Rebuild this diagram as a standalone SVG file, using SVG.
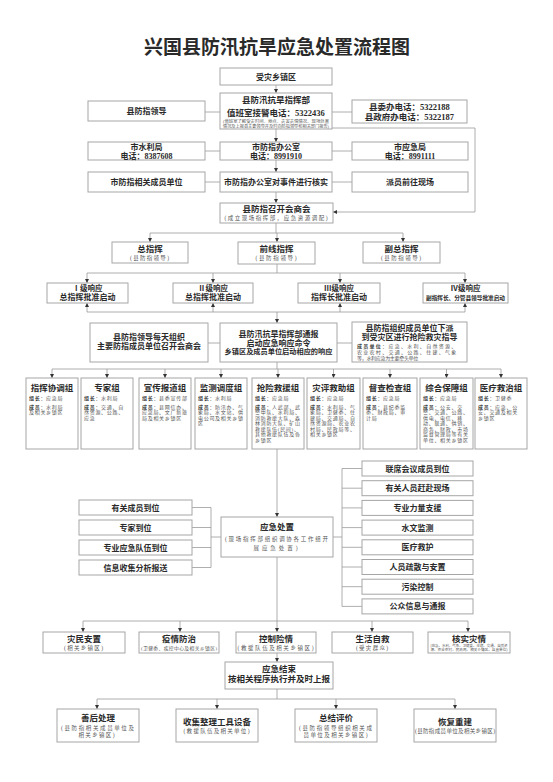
<svg xmlns="http://www.w3.org/2000/svg" width="553" height="782" viewBox="0 0 553 782">
<defs>
<marker id="ah" markerUnits="userSpaceOnUse" markerWidth="4" markerHeight="4" refX="4" refY="2" orient="auto"><path d="M0,0 L4,2 L0,4 z" fill="#333"/></marker>
<style>
.b{fill:#fff;stroke:#a6a6a6;stroke-width:1}
.l{fill:none;stroke:#9a9a9a;stroke-width:0.8}
.a{fill:none;stroke:#9a9a9a;stroke-width:0.8;marker-end:url(#ah)}
text{font-family:"Liberation Serif","Noto Sans CJK SC",serif;fill:#2a2a2a;text-anchor:middle}
.h{font-size:8.5px;font-weight:bold}
.m{font-size:8px;font-weight:bold}
.s{font-size:5.5px;fill:#555;letter-spacing:1px}
.x{font-size:4px;fill:#555}
.gt{font-size:8.5px;font-weight:bold}
.g{font-size:5px;fill:#555;text-anchor:start;letter-spacing:0.7px}
.g tspan.k{font-weight:bold;fill:#333}
</style>
</defs>
<rect width="553" height="782" fill="#fff"/>
<text x="277" y="54" style="font-size:19px;font-weight:bold">兴国县防汛抗旱应急处置流程图</text>

<g id="connectors">
<path class="a" d="M276,85V93"/>
<path class="l" d="M205,112H220M332,112H352"/>
<path class="a" d="M332,128H475V212H333"/>
<path class="a" d="M276,129V142"/>
<path class="l" d="M205,151H220M332,151H352"/>
<path class="a" d="M276,160V172"/>
<path class="l" d="M205,182H220M332,182H352"/>
<path class="a" d="M276,192V203"/>
<path class="l" d="M276,223V233M150,233H403"/>
<path class="a" d="M150,233V242"/><path class="a" d="M277,233V242"/><path class="a" d="M403,233V242"/>
<path class="l" d="M277,264V273M87,273H465"/>
<path class="a" d="M87,273V283"/><path class="a" d="M213,273V283"/><path class="a" d="M340,273V283"/><path class="a" d="M465,273V283"/>
<path class="l" d="M87,312H465"/>
<path class="a" d="M87,312V303"/><path class="a" d="M213,312V303"/><path class="a" d="M340,312V303"/><path class="a" d="M465,312V303"/>
<path class="a" d="M277,312V323"/>
<path class="l" d="M208,343H220M337,343H352"/>
<path class="l" d="M277,362V369M52,369H501"/>
<path class="a" d="M52,369V378"/><path class="a" d="M107,369V378"/><path class="a" d="M165,369V378"/><path class="a" d="M221,369V378"/><path class="a" d="M278,369V378"/><path class="a" d="M333.5,369V378"/><path class="a" d="M390,369V378"/><path class="a" d="M446.5,369V378"/><path class="a" d="M501,369V378"/>
<path class="a" d="M277,449V517"/>
<path class="l" d="M192,507.5H211M192,527.5H211M192,547.5H211M192,567.5H211M211,507.5V567.5M211,537H221"/>
<path class="l" d="M333,537H342M342,468.5V606.5M342,468.5H362M342,488.2H362M342,507.9H362M342,527.6H362M342,547.3H362M342,567H362M342,586.7H362M342,606.4H362"/>
<path class="l" d="M277,557V621M83,621H468"/>
<path class="a" d="M83,621V632"/><path class="a" d="M180,621V632"/><path class="a" d="M277,621V632"/><path class="a" d="M372,621V632"/><path class="a" d="M468,621V632"/>
<path class="a" d="M277,653V662"/>
<path class="l" d="M277,689V699M97,699H455"/>
<path class="a" d="M97,699V709"/><path class="a" d="M217,699V709"/><path class="a" d="M336,699V709"/><path class="a" d="M455,699V709"/>
</g>

<g id="n-shouzai"><rect class="b" x="220" y="68" width="112" height="17"/><text class="m" x="276" y="79.5">受灾乡镇区</text></g>
<g id="n-zhihuibu"><rect class="b" x="220" y="93" width="112" height="36"/>
<text class="h" x="276" y="103">县防汛抗旱指挥部</text>
<text class="h" x="276" y="115.5">值班室接警电话：5322436</text>
<text class="x" x="276" y="122.5" textLength="106" lengthAdjust="spacingAndGlyphs">(值班室了解受灾时间、地点、灾害灾情情况、现场处置</text>
<text class="x" x="276" y="127.5" textLength="106" lengthAdjust="spacingAndGlyphs">情况及上报县主要领导并及时向防指领导和相关部门报告)</text></g>
<g id="n-lingdao"><rect class="b" x="88" y="101" width="117" height="20"/><text class="m" x="146.5" y="114">县防指领导</text></g>
<g id="n-dianhua"><rect class="b" x="352" y="100" width="115" height="23"/><text class="h" x="409.5" y="110">县委办电话：5322188</text><text class="h" x="409.5" y="120">县政府办电话：5322187</text></g>

<g id="n-shuili"><rect class="b" x="88" y="142" width="117" height="18"/><text class="m" x="146.5" y="150">市水利局</text><text class="m" x="146.5" y="158.5">电话：8387608</text></g>
<g id="n-bangongshi"><rect class="b" x="220" y="142" width="112" height="18"/><text class="m" x="276" y="150">市防指办公室</text><text class="m" x="276" y="158.5">电话：8991910</text></g>
<g id="n-yingji"><rect class="b" x="352" y="142" width="116" height="18"/><text class="m" x="410" y="150">市应急局</text><text class="m" x="410" y="158.5">电话：8991111</text></g>

<g id="n-chengyuan"><rect class="b" x="88" y="172" width="117" height="20"/><text class="m" x="146.5" y="185">市防指相关成员单位</text></g>
<g id="n-heshi"><rect class="b" x="220" y="172" width="112" height="20"/><text class="m" x="276" y="185">市防指办公室对事件进行核实</text></g>
<g id="n-paiyuan"><rect class="b" x="352" y="172" width="116" height="20"/><text class="m" x="410" y="185">派员前往现场</text></g>

<g id="n-huishang"><rect class="b" x="220" y="203" width="113" height="20"/><text class="h" x="276.5" y="211.5">县防指召开会商会</text><text class="s" x="276.5" y="220" textLength="104">(成立现场指挥部，应急资源调配)</text></g>

<g id="n-zong"><rect class="b" x="112" y="242" width="76" height="21"/><text class="h" x="150" y="252">总指挥</text><text class="s" x="150" y="259.5" textLength="40">(县防指领导)</text></g>
<g id="n-qianxian"><rect class="b" x="238" y="242" width="77" height="22"/><text class="h" x="276.5" y="252">前线指挥</text><text class="s" x="276.5" y="259.5" textLength="42">(县防指领导)</text></g>
<g id="n-fuzong"><rect class="b" x="363" y="242" width="77" height="21"/><text class="h" x="401.5" y="252">副总指挥</text><text class="s" x="401.5" y="259.5" textLength="41">(县防指领导)</text></g>

<g id="n-l1"><rect class="b" x="47" y="283" width="81" height="20"/><text class="m" x="87.5" y="290.5" style="font-size:7.5px">Ⅰ级响应</text><text class="m" x="87.5" y="300">总指挥批准启动</text></g>
<g id="n-l2"><rect class="b" x="173" y="283" width="80" height="20"/><text class="m" x="213" y="290.5" style="font-size:7.5px">Ⅱ级响应</text><text class="m" x="213" y="300">总指挥批准启动</text></g>
<g id="n-l3"><rect class="b" x="298" y="283" width="82" height="20"/><text class="m" x="339" y="290.5" style="font-size:7.5px">Ⅲ级响应</text><text class="m" x="339" y="300">指挥长批准启动</text></g>
<g id="n-l4"><rect class="b" x="423" y="283" width="85" height="20"/><text class="m" x="465.5" y="290.5" style="font-size:7.5px">Ⅳ级响应</text><text class="m" x="465.5" y="299.5" style="font-size:5.7px" textLength="79">副指挥长、分管县领导批准启动</text></g>

<g id="n-meitian"><rect class="b" x="90" y="323" width="118" height="39"/><text class="m" x="149" y="340">县防指领导每天组织</text><text class="m" x="149" y="349">主要防指成员单位召开会商会</text></g>
<g id="n-tongbao"><rect class="b" x="220" y="323" width="117" height="39"/><text class="m" x="278.5" y="337">县防汛抗旱指挥部通报</text><text class="m" x="278.5" y="345.5">启动应急响应命令</text><text class="m" x="278.5" y="354" style="font-size:7.2px">乡镇区及成员单位启动相应的响应</text></g>
<g id="n-xiapai"><rect class="b" x="352" y="322" width="115" height="40"/><text class="m" x="409.5" y="331">县防指组织成员单位下派</text><text class="m" x="409.5" y="340">到受灾区进行抢险救灾指导</text>
<text class="g" x="357" y="347.5" textLength="100"><tspan class="k">成员单位</tspan>：应急、水利、自然资源、</text>
<text class="g" x="357" y="354" textLength="100">农业农村、交通、公路、住建、气象</text>
<text class="g" x="357" y="360" textLength="62">等，水利应急为主要牵头单位</text></g>

<g id="n-g1"><rect class="b" x="26" y="378" width="52" height="71"/><text class="gt" x="52" y="391">指挥协调组</text>
<text class="g" x="29" y="400"><tspan class="k">组长</tspan>：应急局</text><text class="g" x="29" y="408.5"><tspan class="k">成员</tspan>：水利局</text><text class="g" x="29" y="414">及相关乡镇区</text></g>
<g id="n-g2"><rect class="b" x="81" y="378" width="52" height="71"/><text class="gt" x="107" y="391">专家组</text>
<text class="g" x="84" y="400"><tspan class="k">组长</tspan>：水利局</text><text class="g" x="84" y="408.5"><tspan class="k">成员</tspan>：交通、自</text><text class="g" x="84" y="414">然资源、公路、</text><text class="g" x="84" y="419.5">应急</text></g>
<g id="n-g3"><rect class="b" x="139" y="378" width="52" height="71"/><text class="gt" x="165" y="391">宣传报道组</text>
<text class="g" x="142" y="400"><tspan class="k">组长</tspan>：县委宣传部</text><text class="g" x="142" y="408.5"><tspan class="k">成员</tspan>：县网信办、</text><text class="g" x="142" y="414">应急局、文广新旅</text><text class="g" x="142" y="419.5">局及相关乡镇区</text></g>
<g id="n-g4"><rect class="b" x="195" y="378" width="52" height="71"/><text class="gt" x="221" y="391">监测调度组</text>
<text class="g" x="198" y="400"><tspan class="k">组长</tspan>：水利局</text><text class="g" x="198" y="408.5"><tspan class="k">成员</tspan>：防汛办、气</text><text class="g" x="198" y="414">象局、水文站、供</text><text class="g" x="198" y="419.5">电公司及相关乡镇</text><text class="g" x="198" y="425">区</text></g>
<g id="n-g5"><rect class="b" x="252" y="378" width="52" height="71"/><text class="gt" x="278" y="391">抢险救援组</text>
<text class="g" x="255" y="400"><tspan class="k">组长</tspan>：应急局</text><text class="g" x="255" y="408.5"><tspan class="k">成员</tspan>：人武部、武</text><text class="g" x="255" y="414">警中队、水利局、</text><text class="g" x="255" y="419.5">消防救援大队、森</text><text class="g" x="255" y="425">林消防大队、矿山</text><text class="g" x="255" y="430.5">救援队伍(民间)、</text><text class="g" x="255" y="436">其他救援队伍及各</text><text class="g" x="255" y="441.5">乡镇区</text></g>
<g id="n-g6"><rect class="b" x="307" y="378" width="53" height="71"/><text class="gt" x="333.5" y="391">灾评救助组</text>
<text class="g" x="310" y="400"><tspan class="k">组长</tspan>：应急局</text><text class="g" x="310" y="408.5"><tspan class="k">成员</tspan>：水利局、气</text><text class="g" x="310" y="414">象局、卫健委、住</text><text class="g" x="310" y="419.5">建局、交通局、自</text><text class="g" x="310" y="425">然资源局、农业农</text><text class="g" x="310" y="430.5">村局、民政局等、</text><text class="g" x="310" y="436">相关乡镇区</text></g>
<g id="n-g7"><rect class="b" x="363" y="378" width="54" height="71"/><text class="gt" x="390" y="391">督查检查组</text>
<text class="g" x="366" y="400"><tspan class="k">组长</tspan>：应急局</text><text class="g" x="366" y="408.5"><tspan class="k">成员</tspan>：县纪委监</text><text class="g" x="366" y="414">委、财政局、审</text><text class="g" x="366" y="419.5">计局</text></g>
<g id="n-g8"><rect class="b" x="420" y="378" width="53" height="71"/><text class="gt" x="446.5" y="391">综合保障组</text>
<text class="g" x="423" y="400"><tspan class="k">组长</tspan>：应急局</text><text class="g" x="423" y="408.5"><tspan class="k">成员</tspan>：公安、交</text><text class="g" x="423" y="414">警、交通、公路、</text><text class="g" x="423" y="419.5">供电、电信、移</text><text class="g" x="423" y="425">动、联通、供销、</text><text class="g" x="423" y="430.5">商务、财政、市场</text><text class="g" x="423" y="436">监督管理局等有关</text><text class="g" x="423" y="441.5">单位、相关乡镇区</text></g>
<g id="n-g9"><rect class="b" x="475" y="378" width="52" height="71"/><text class="gt" x="501" y="391">医疗救治组</text>
<text class="g" x="478" y="400"><tspan class="k">组长</tspan>：卫健委</text><text class="g" x="478" y="408.5"><tspan class="k">成员</tspan>：应急、公</text><text class="g" x="478" y="414">安、交通及相关</text><text class="g" x="478" y="419.5">乡镇区</text></g>

<g id="n-chuzhi"><rect class="b" x="221" y="517" width="112" height="40"/><text class="h" x="277" y="530">应急处置</text><text class="s" x="277" y="540.5" textLength="104">(现场指挥部组织调协各工作组开</text><text class="s" x="276" y="549.5" textLength="45">展应急处置)</text></g>

<g id="n-left1"><rect class="b" x="79" y="500" width="113" height="15"/><text class="m" x="135.5" y="510.5">有关成员到位</text></g>
<g id="n-left2"><rect class="b" x="79" y="520" width="113" height="15"/><text class="m" x="135.5" y="530.5">专家到位</text></g>
<g id="n-left3"><rect class="b" x="79" y="540" width="113" height="15"/><text class="m" x="135.5" y="550.5">专业应急队伍到位</text></g>
<g id="n-left4"><rect class="b" x="79" y="560" width="113" height="15"/><text class="m" x="135.5" y="570.5">信息收集分析报送</text></g>

<g id="n-r1"><rect class="b" x="362" y="461" width="111" height="15"/><text class="m" x="417.5" y="471.5">联席会议成员到位</text></g>
<g id="n-r2"><rect class="b" x="362" y="480.7" width="111" height="15"/><text class="m" x="417.5" y="491.2">有关人员赶赴现场</text></g>
<g id="n-r3"><rect class="b" x="362" y="500.4" width="111" height="15"/><text class="m" x="417.5" y="510.9">专业力量支援</text></g>
<g id="n-r4"><rect class="b" x="362" y="520.1" width="111" height="15"/><text class="m" x="417.5" y="530.6">水文监测</text></g>
<g id="n-r5"><rect class="b" x="362" y="539.8" width="111" height="15"/><text class="m" x="417.5" y="550.3">医疗救护</text></g>
<g id="n-r6"><rect class="b" x="362" y="559.5" width="111" height="15"/><text class="m" x="417.5" y="570">人员疏散与安置</text></g>
<g id="n-r7"><rect class="b" x="362" y="579.2" width="111" height="15"/><text class="m" x="417.5" y="589.7">污染控制</text></g>
<g id="n-r8"><rect class="b" x="362" y="598.9" width="111" height="15"/><text class="m" x="417.5" y="609.4">公众信息与通报</text></g>

<g id="n-zaimin"><rect class="b" x="43" y="632" width="82" height="21"/><text class="h" x="84" y="641.5">灾民安置</text><text class="s" x="84" y="649.5" textLength="40">(相关乡镇区)</text></g>
<g id="n-yiqing"><rect class="b" x="139" y="632" width="80" height="21"/><text class="h" x="179" y="641.5">疫情防治</text><text class="s" x="179" y="649.5" style="font-size:4.8px;letter-spacing:0" textLength="76">(卫健委、疾控中心及相关乡镇区)</text></g>
<g id="n-xianqing"><rect class="b" x="236" y="632" width="80" height="21"/><text class="h" x="276" y="641.5">控制险情</text><text class="s" x="276" y="649.5" textLength="77">(救援队伍及相关乡镇区)</text></g>
<g id="n-zijiu"><rect class="b" x="332" y="632" width="81" height="21"/><text class="h" x="372.5" y="641.5">生活自救</text><text class="s" x="372.5" y="649.5" textLength="33">(受灾群众)</text></g>
<g id="n-heshizq"><rect class="b" x="428" y="632" width="82" height="21"/><text class="h" x="469" y="641.5">核实灾情</text><text class="x" x="469" y="646.5" style="font-size:3.5px" textLength="77" lengthAdjust="spacingAndGlyphs">(应急、水利、气象、卫健委、住建、交通、自然资</text><text class="x" x="469" y="650.8" style="font-size:3.5px" textLength="77" lengthAdjust="spacingAndGlyphs">源、农业农村、民政局、相关乡镇区、县直单位)</text></g>

<g id="n-jieshu"><rect class="b" x="225" y="662" width="108" height="27"/><text class="h" x="279" y="672">应急结束</text><text class="h" x="279" y="682">按相关程序执行并及时上报</text></g>

<g id="n-shanhou"><rect class="b" x="57" y="709" width="82" height="33"/><text class="h" x="98" y="721">善后处理</text><text class="s" x="98" y="730" textLength="74">(县防指相关成员单位及</text><text class="s" x="97" y="736.5" textLength="37">相关乡镇区)</text></g>
<g id="n-shouji"><rect class="b" x="176" y="709" width="82" height="33"/><text class="h" x="217" y="724.5">收集整理工具设备</text><text class="s" x="217" y="733" textLength="67">(救援队伍及相关单位)</text></g>
<g id="n-zongjie"><rect class="b" x="295" y="709" width="82" height="33"/><text class="h" x="336" y="721">总结评价</text><text class="s" x="336" y="730" textLength="74">(县防指领导组织相关成</text><text class="s" x="336" y="736.5" textLength="65">员单位及相关乡镇区)</text></g>
<g id="n-huifu"><rect class="b" x="414" y="709" width="82" height="33"/><text class="h" x="455" y="724.5">恢复重建</text><text class="s" x="455" y="733" style="letter-spacing:0" textLength="80">(县防指成员单位及相关乡镇区)</text></g>
</svg>
